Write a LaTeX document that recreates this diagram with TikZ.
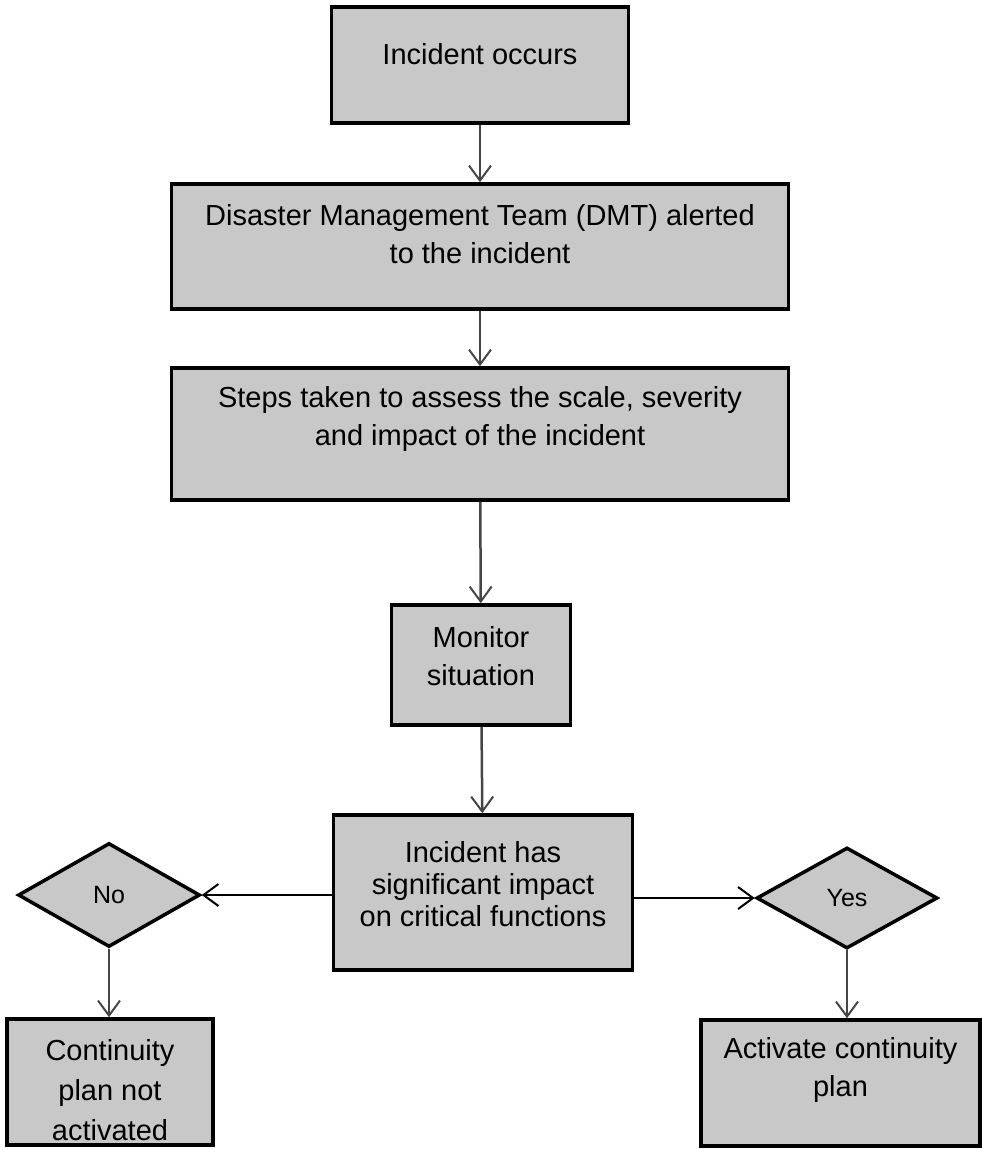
\documentclass[tikz,border=0pt]{standalone}
\usepackage{fontspec}
\setmainfont{Liberation Sans}
\usetikzlibrary{arrows.meta,shapes.geometric}
\definecolor{boxfill}{RGB}{200,200,200}
\definecolor{linegray}{RGB}{70,70,70}
\tikzset{
  procbox/.style={draw=black, line width=3.5pt, fill=boxfill, rectangle, inner sep=0pt},
  boxtext/.style={align=center, inner sep=0pt, font=\fontsize{29pt}{38pt}\selectfont},
  decision/.style={draw=black, line width=3.5pt, fill=boxfill, diamond, inner sep=0pt,
    font=\fontsize{25pt}{28pt}\selectfont},
  flow/.style={draw=linegray, line width=2.5pt,
    -{Straight Barb[length=15pt,width=22pt,line width=2pt]}}
}
\begin{document}
\begin{tikzpicture}[x=1pt,y=-1pt]
\useasboundingbox (0,0) rectangle (982,1149);
\node[procbox, minimum width=297pt, minimum height=116pt] (b1) at (480,65) {};
\node[boxtext] (b1t) at ([yshift=11pt]b1.center) {Incident occurs};
\node[procbox, minimum width=617pt, minimum height=125pt] (b2) at (480,246.5) {};
\node[boxtext] (b2t) at ([yshift=12pt]b2.center) {Disaster Management Team (DMT) alerted\\to the incident};
\node[procbox, minimum width=617pt, minimum height=132pt] (b3) at (480,434) {};
\node[boxtext] (b3t) at ([yshift=15pt]b3.center) {Steps taken to assess the scale, severity\\and impact of the incident};
\node[procbox, minimum width=179pt, minimum height=120pt] (b4) at (481,665) {};
\node[boxtext] (b4t) at ([yshift=9pt]b4.center) {Monitor\\situation};
\node[procbox, minimum width=299pt, minimum height=155pt] (b5) at (483,892.5) {};
\node[boxtext, font=\fontsize{29pt}{32pt}\selectfont] (b5t) at ([yshift=8pt]b5.center) {Incident has\\significant impact\\on critical functions};
\node[decision, minimum width=182pt, minimum height=104pt] (no) at (109,895) {No};
\node[decision, minimum width=181pt, minimum height=101pt] (yes) at (847,898) {Yes};
\node[procbox, minimum width=206pt, minimum height=126pt] (cont) at (110,1082) {};
\node[boxtext, font=\fontsize{29pt}{40pt}\selectfont] (contt) at ([yshift=-8pt]cont.center) {Continuity\\plan not\\activated};
\node[procbox, minimum width=279pt, minimum height=126pt] (act) at (840.5,1083) {};
\node[boxtext] (actt) at ([yshift=13pt]act.center) {Activate continuity\\plan};
\draw[flow] (b1) -- (b2);
\draw[flow] (b2) -- (b3);
\draw[flow] (b3) -- (b4);
\draw[flow] (b4) -- (b5);
\draw[flow, draw=black] (b5.west |- no.east) -- (no.east);
\draw[flow, draw=black] (b5.east |- yes.west) -- (yes.west);
\draw[flow] (no.south) -- (no.south |- cont.north);
\draw[flow] (yes.south) -- (yes.south |- act.north);
\end{tikzpicture}
\end{document}
